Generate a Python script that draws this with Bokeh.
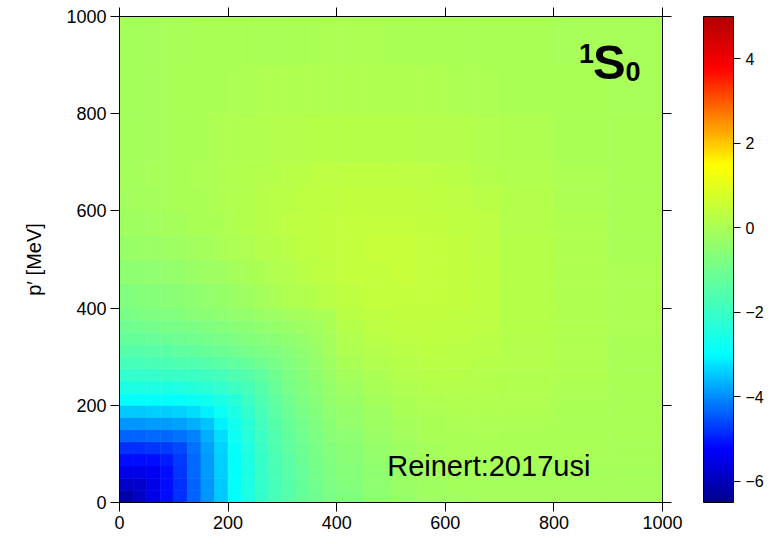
import numpy as np
from bokeh.plotting import figure
from bokeh.models import (ColumnDataSource, LinearColorMapper, ColorBar, FixedTicker,
                          LinearAxis, Range1d, Label, CustomJSTickFormatter)
from bokeh.embed import file_html
from bokeh.resources import INLINE

# cell edges along p and p' [MeV]
edges = [0, 25, 50, 75, 100, 125, 150, 175, 200, 225, 250, 275, 300, 325, 350, 375, 400,
         450, 500, 550, 600, 650, 700, 800, 900, 1000]

# V(p, p') is symmetric; cK holds the values for p'-cells 0..K at p-cell K
c0 = [-6.2]
c1 = [-5.85, -5.8]
c2 = [-5.5, -5.49, -5.4]
c3 = [-5.15, -5.14, -5.11, -5.0]
c4 = [-4.8, -4.8, -4.78, -4.73, -4.6]
c5 = [-4.35, -4.35, -4.34, -4.31, -4.24, -4.1]
c6 = [-3.9, -3.9, -3.89, -3.87, -3.81, -3.69, -3.5]
c7 = [-3.45, -3.45, -3.44, -3.42, -3.37, -3.28, -3.11, -2.85]
c8 = [-2.95, -2.95, -2.94, -2.92, -2.88, -2.81, -2.7, -2.53, -2.3]
c9 = [-2.5, -2.5, -2.49, -2.46, -2.42, -2.35, -2.26, -2.13, -1.96, -1.75]
c10 = [-2.1, -2.09, -2.08, -2.05, -2.0, -1.94, -1.86, -1.75, -1.63, -1.48, -1.3]
c11 = [-1.75, -1.74, -1.71, -1.67, -1.62, -1.56, -1.48, -1.39, -1.29, -1.17, -1.04, -0.9]
c12 = [-1.49, -1.47, -1.43, -1.38, -1.32, -1.26, -1.18, -1.1, -1.01, -0.92, -0.82, -0.71, -0.6]
c13 = [-1.24, -1.21, -1.17, -1.11, -1.06, -0.99, -0.93, -0.85, -0.78, -0.7, -0.62, -0.53, -0.44, -0.35]
c14 = [-1.04, -1.0, -0.96, -0.91, -0.85, -0.8, -0.73, -0.67, -0.6, -0.53, -0.46, -0.38, -0.31,
       -0.23, -0.15]
c15 = [-0.87, -0.82, -0.78, -0.72, -0.67, -0.61, -0.55, -0.49, -0.43, -0.36, -0.3, -0.23, -0.16,
       -0.09, -0.02, 0.05]
c16 = [-0.72, -0.69, -0.66, -0.61, -0.56, -0.5, -0.43, -0.35, -0.28, -0.19, -0.1, -0.02, 0.06,
       0.14, 0.21, 0.28, 0.36]
c17 = [-0.5, -0.47, -0.44, -0.4, -0.35, -0.3, -0.23, -0.17, -0.1, -0.03, 0.05, 0.13, 0.19, 0.26,
       0.32, 0.36, 0.42, 0.46]
c18 = [-0.32, -0.3, -0.27, -0.23, -0.19, -0.14, -0.09, -0.03, 0.03, 0.09, 0.16, 0.22, 0.27, 0.32,
       0.36, 0.4, 0.44, 0.47, 0.47]
c19 = [-0.2, -0.18, -0.15, -0.12, -0.08, -0.03, 0.01, 0.05, 0.1, 0.16, 0.2, 0.24, 0.29, 0.33,
       0.37, 0.4, 0.43, 0.45, 0.44, 0.4]
c20 = [-0.13, -0.11, -0.09, -0.06, -0.02, 0.01, 0.05, 0.08, 0.13, 0.16, 0.2, 0.24, 0.28, 0.31,
       0.34, 0.36, 0.39, 0.4, 0.39, 0.35, 0.3]
c21 = [-0.1, -0.08, -0.06, -0.04, -0.01, 0.02, 0.05, 0.09, 0.12, 0.15, 0.19, 0.22, 0.25, 0.27,
       0.29, 0.31, 0.33, 0.33, 0.32, 0.29, 0.24, 0.19]
c22 = [-0.12, -0.1, -0.08, -0.05, -0.01, 0.01, 0.04, 0.06, 0.09, 0.11, 0.13, 0.16, 0.18, 0.19,
       0.21, 0.22, 0.23, 0.23, 0.21, 0.19, 0.15, 0.11, 0.06]
c23 = [-0.12, -0.1, -0.08, -0.06, -0.03, -0.01, 0.0, 0.01, 0.03, 0.04, 0.06, 0.07, 0.08, 0.09,
       0.1, 0.1, 0.1, 0.1, 0.09, 0.07, 0.05, 0.03, 0.0, -0.02]
c24 = [-0.11, -0.09, -0.08, -0.07, -0.04, -0.03, -0.024, -0.02, -0.01, -0.005, 0.0, 0.01, 0.01,
       0.01, 0.02, 0.02, 0.02, 0.02, 0.01, 0.0, -0.005, -0.01, -0.025, -0.035, -0.036]

tri = [c0, c1, c2, c3, c4, c5, c6, c7, c8, c9, c10, c11, c12, c13, c14, c15, c16, c17, c18,
       c19, c20, c21, c22, c23, c24]

axis_ticks = [0, 200, 400, 600, 800, 1000]
cbar_ticks = [-6, -4, -2, 0, 2, 4]
v_low, v_high = -6.5, 5.0
channel = ("1", "S", "0")
ref_text = "Reinert:2017usi"
ylabel = "p\u2032 [MeV]"

# build the symmetric table of cells
n = len(tri)
left, right, bottom, top, val = [], [], [], [], []
for i in range(n):        # p' index
    for j in range(n):    # p index
        left.append(edges[j]); right.append(edges[j + 1])
        bottom.append(edges[i]); top.append(edges[i + 1])
        val.append(tri[max(i, j)][min(i, j)])
src = ColumnDataSource(dict(left=left, right=right, bottom=bottom, top=top, v=val))

# jet-like palette (styling)
anchor_v = [-6.5, -5.25, -3.0, 1.5, 3.8, 5.0]
anchor_rgb = [(0, 0, 0.56), (0, 0, 1), (0, 1, 1), (1, 1, 0), (1, 0, 0), (0.69, 0, 0)]
grid = np.linspace(v_low, v_high, 256)
palette = []
for g in grid:
    rgb = [np.interp(g, anchor_v, [c[k] for c in anchor_rgb]) for k in range(3)]
    palette.append("#%02x%02x%02x" % tuple(int(round(255 * x)) for x in rgb))
mapper = LinearColorMapper(palette=palette, low=v_low, high=v_high)

FONT = "Liberation Sans"
p = figure(width=775, height=544, output_backend="svg", toolbar_location=None,
           x_range=Range1d(0, 1000), y_range=Range1d(0, 1000),
           min_border_left=119, min_border_right=113, min_border_top=16, min_border_bottom=42)
p.grid.visible = False
p.outline_line_color = "black"
p.outline_line_width = 1

p.quad(left="left", right="right", bottom="bottom", top="top", source=src,
       fill_color={"field": "v", "transform": mapper},
       line_color={"field": "v", "transform": mapper}, line_width=0.6)

def style_axis(ax, labels=True):
    ax.ticker = FixedTicker(ticks=axis_ticks)
    ax.major_tick_out = 9
    ax.major_tick_in = 0
    ax.minor_tick_line_color = None
    ax.axis_line_color = "black"
    ax.major_tick_line_color = "black"
    ax.major_label_text_font = FONT
    if labels:
        ax.major_label_text_color = "black"
        ax.major_label_text_font_size = "18px"
        ax.major_label_standoff = 4
    else:
        ax.major_label_text_color = None
        ax.major_label_text_font_size = "1px"
        ax.major_label_standoff = 0

style_axis(p.xaxis[0])
style_axis(p.yaxis[0])
p.yaxis[0].axis_label = ylabel
p.yaxis[0].axis_label_text_font = FONT
p.yaxis[0].axis_label_text_color = "black"
p.yaxis[0].axis_label_text_font_size = "20px"
p.yaxis[0].axis_label_text_font_style = "normal"
p.yaxis[0].axis_label_standoff = 18

ax_top = LinearAxis()
style_axis(ax_top, labels=False)
p.add_layout(ax_top, "above")
ax_right = LinearAxis()
style_axis(ax_right, labels=False)
p.add_layout(ax_right, "right")

# empty gap between the frame's right ticks and the colour bar
gap = LinearAxis()
style_axis(gap, labels=False)
gap.major_tick_out = 32
gap.major_tick_line_color = None
gap.axis_line_color = None
p.add_layout(gap, "right")

cb = ColorBar(color_mapper=mapper, ticker=FixedTicker(ticks=cbar_ticks),
              formatter=CustomJSTickFormatter(code="return tick < 0 ? '\\u2212' + Math.abs(tick) : String(tick);"),
              width=30, height=486, padding=0, margin=0,
              major_tick_out=7, major_tick_in=0, major_tick_line_color="black",
              minor_tick_line_color=None, bar_line_color="black", bar_line_width=1,
              major_label_text_font=FONT, major_label_text_font_size="16px",
              major_label_text_color="black",
              label_standoff=5, background_fill_color=None, border_line_color=None)
p.add_layout(cb, "right")

# channel label  ^1 S _0 and reference key
p.add_layout(Label(x=846, y=924, text=channel[0], text_font=FONT, text_font_style="bold",
                   text_font_size="27px", text_baseline="alphabetic", text_color="black"))
p.add_layout(Label(x=872, y=907, text=channel[1], text_font=FONT, text_font_style="bold",
                   text_font_size="49px", text_baseline="alphabetic", text_color="black"))
p.add_layout(Label(x=932, y=887, text=channel[2], text_font=FONT, text_font_style="bold",
                   text_font_size="27px", text_baseline="alphabetic", text_color="black"))
p.add_layout(Label(x=493, y=75, text=ref_text, text_font=FONT, text_color="black",
                   text_font_size="29px", text_baseline="alphabetic"))

open("out.html", "w").write(file_html(p, INLINE))
